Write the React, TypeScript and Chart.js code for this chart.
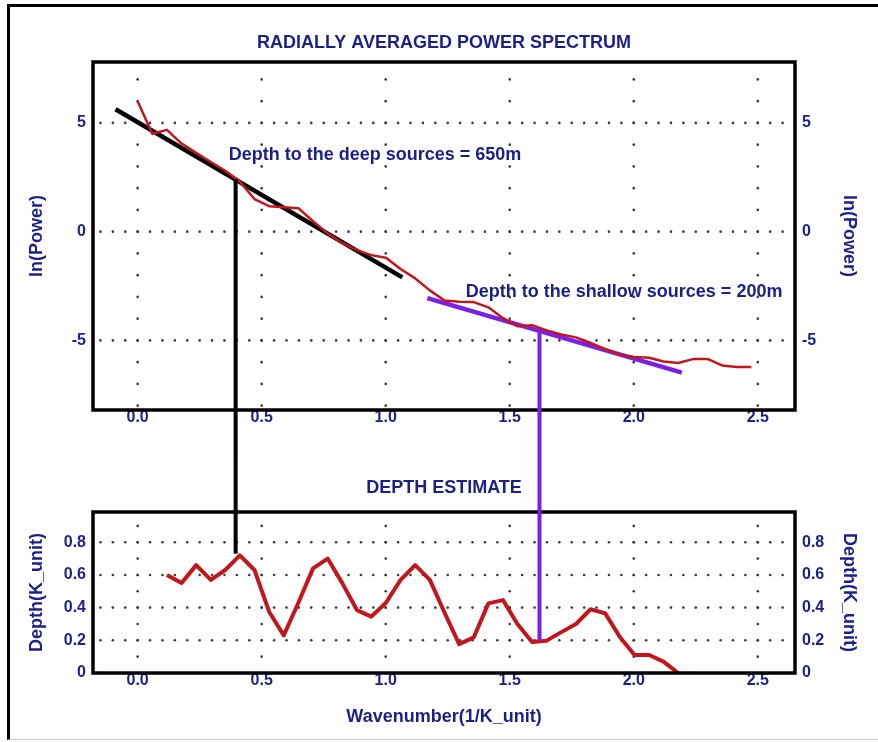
import React, { useEffect, useRef } from "react";
import { Chart, registerables } from "chart.js";

Chart.register(...registerables);

const FONT = "'Liberation Sans', Arial, Helvetica, sans-serif";
const NAVY = "#1b1f8a";
const RED = "#c3161c";
const PURPLE = "#7c20e4";

// ---- Radially averaged power spectrum ----
const wavenumber = [
  0.0, 0.059, 0.118, 0.177, 0.236, 0.295, 0.353, 0.412, 0.471, 0.53, 0.589,
  0.648, 0.707, 0.766, 0.825, 0.884, 0.942, 1.001, 1.06, 1.119, 1.178, 1.237,
  1.296, 1.355, 1.414, 1.473, 1.531, 1.59, 1.649, 1.708, 1.767, 1.826, 1.885,
  1.944, 2.003, 2.062, 2.12, 2.179, 2.238, 2.297, 2.356, 2.415, 2.474,
];
const lnPower = [
  6.0, 4.5, 4.68, 4.05, 3.62, 3.2, 2.8, 2.3, 1.5, 1.17, 1.12,
  1.08, 0.48, -0.08, -0.53, -0.85, -1.08, -1.2, -1.72, -2.15, -2.7, -3.17,
  -3.22, -3.24, -3.48, -3.98, -4.35, -4.3, -4.54, -4.73, -4.86, -5.12, -5.4,
  -5.66, -5.76, -5.8, -5.97, -6.04, -5.86, -5.85, -6.15, -6.22, -6.22,
];

// straight-line fits
const deepFitK = [-0.089, 1.067];
const deepFitPower = [5.63, -2.1];
const shallowFitK = [1.168, 2.194];
const shallowFitPower = [-3.06, -6.48];

// ---- Depth estimate ----
const depthK = [
  0.118, 0.177, 0.236, 0.295, 0.353, 0.412, 0.471, 0.53, 0.589, 0.648, 0.707,
  0.766, 0.825, 0.884, 0.942, 1.001, 1.06, 1.119, 1.178, 1.237, 1.296, 1.355,
  1.414, 1.473, 1.531, 1.59, 1.649, 1.708, 1.767, 1.826, 1.885, 1.944, 2.003,
  2.062, 2.12, 2.179,
];
const depthValues = [
  0.6, 0.55, 0.66, 0.57, 0.63, 0.72, 0.63, 0.375, 0.23, 0.43, 0.64,
  0.7, 0.55, 0.385, 0.345, 0.43, 0.57, 0.66, 0.57, 0.37, 0.177, 0.218,
  0.426, 0.446, 0.3, 0.19, 0.198, 0.25, 0.3, 0.39, 0.365, 0.22, 0.11,
  0.11, 0.07, 0.0,
];

// cursors linking the two panels
const cursorK = [0.395, 1.62];
const cursorPower = [2.42, -4.55];
const cursorDepth = [0.73, 0.2];
const cursorColors = ["#000000", PURPLE];

// annotations
const noteTexts = ["Depth to the deep sources = 650m", "Depth to the shallow sources = 200m"];
const noteK = [0.367, 1.323];
const notePower = [3.54, -2.78];

// ticks
const xTicks = [0, 0.5, 1, 1.5, 2, 2.5];
const powerTicks = [-5, 0, 5];
const depthTicks = [0, 0.2, 0.4, 0.6, 0.8];
const powerDotColumn = [-8, -7, -6, -5, -4, -3, -2, -1, 0, 1, 2, 3, 4, 5, 6, 7];
const depthDotColumn = [0.1, 0.2, 0.3, 0.4, 0.5, 0.6, 0.7, 0.8, 0.9];
const powerDotRows = [5, 0, -5];
const depthDotRows = [0.8, 0.6, 0.4, 0.2];

const X_MIN = -0.18;
const X_MAX = 2.65;

const tickFont = { family: FONT, size: 16, weight: "bold" as const, lineHeight: 1 };
const titleFont = { family: FONT, size: 18, weight: "bold" as const, lineHeight: 1.2 };

function makeDotGrid(rows: number[], column: number[]) {
  return {
    id: "dotGrid",
    beforeDatasetsDraw(chart: any) {
      const { ctx, scales } = chart;
      const xs = scales.x;
      const ys = scales.y;
      ctx.save();
      ctx.fillStyle = "#3a3a3a";
      const dot = (px: number, py: number) => {
        ctx.beginPath();
        ctx.arc(px, py, 1.3, 0, Math.PI * 2);
        ctx.fill();
      };
      for (const r of rows) {
        const py = ys.getPixelForValue(r);
        for (let i = -3; i <= 53; i++) dot(xs.getPixelForValue(i * 0.05), py);
      }
      for (const c of xTicks) {
        const px = xs.getPixelForValue(c);
        for (const r of column) dot(px, ys.getPixelForValue(r));
      }
      ctx.restore();
    },
  };
}

const framePlugin = {
  id: "frame",
  afterDatasetsDraw(chart: any) {
    const { ctx, chartArea } = chart;
    ctx.save();
    ctx.strokeStyle = "#000";
    ctx.lineWidth = 3.5;
    ctx.strokeRect(chartArea.left, chartArea.top, chartArea.right - chartArea.left, chartArea.bottom - chartArea.top);
    ctx.restore();
  },
};

function makeConnectors(values: number[], down: boolean) {
  return {
    id: "connectors",
    afterDraw(chart: any) {
      const { ctx, scales } = chart;
      ctx.save();
      ctx.lineWidth = 4;
      cursorK.forEach((k, i) => {
        const px = scales.x.getPixelForValue(k);
        const py = scales.y.getPixelForValue(values[i]);
        ctx.strokeStyle = cursorColors[i];
        ctx.beginPath();
        if (down) {
          ctx.moveTo(px, py);
          ctx.lineTo(px, chart.height);
        } else {
          ctx.moveTo(px, 0);
          ctx.lineTo(px, py);
        }
        ctx.stroke();
      });
      ctx.restore();
    },
  };
}

const notesPlugin = {
  id: "notes",
  afterDatasetsDraw(chart: any) {
    const { ctx, scales } = chart;
    ctx.save();
    ctx.font = `bold 18px ${FONT}`;
    ctx.fillStyle = NAVY;
    ctx.textAlign = "left";
    ctx.textBaseline = "middle";
    noteTexts.forEach((t, i) => {
      ctx.fillText(t, scales.x.getPixelForValue(noteK[i]), scales.y.getPixelForValue(notePower[i]));
    });
    ctx.restore();
  },
};

function xAxis(height: number, title?: string) {
  return {
    type: "linear",
    position: "bottom",
    min: X_MIN,
    max: X_MAX,
    afterBuildTicks: (s: any) => {
      s.ticks = xTicks.map((v) => ({ value: v }));
    },
    afterFit: (s: any) => {
      s.height = height;
    },
    grid: { display: false, drawTicks: false },
    border: { display: false },
    ticks: {
      color: NAVY,
      font: tickFont,
      padding: 0,
      autoSkip: false,
      maxRotation: 0,
      callback: (v: any) => Number(v).toFixed(1),
    },
    title: title
      ? { display: true, text: title, color: NAVY, font: titleFont, padding: { top: 0, bottom: 14 } }
      : { display: false },
  };
}

function yAxis(
  pos: "left" | "right",
  min: number,
  max: number,
  ticks: number[],
  label: string,
  fmt: (v: number) => string,
  width: number,
  titlePad: number
) {
  return {
    type: "linear",
    position: pos,
    min,
    max,
    afterBuildTicks: (s: any) => {
      s.ticks = ticks.map((v) => ({ value: v }));
    },
    afterFit: (s: any) => {
      s.width = width;
    },
    grid: { display: false, drawTicks: false },
    border: { display: false },
    ticks: { color: NAVY, font: tickFont, padding: 7, autoSkip: false, callback: (v: any) => fmt(Number(v)) },
    title: { display: true, text: label, color: NAVY, font: titleFont, padding: { top: titlePad, bottom: 0 } },
  };
}

const fmtPower = (v: number) => String(v);
const fmtDepth = (v: number) => (v === 0 ? "0" : v.toFixed(1));

export default function App() {
  const topRef = useRef<HTMLCanvasElement>(null);
  const botRef = useRef<HTMLCanvasElement>(null);

  useEffect(() => {
    const top = new Chart(topRef.current as HTMLCanvasElement, {
      type: "line",
      data: {
        datasets: [
          {
            data: wavenumber.map((k, i) => ({ x: k, y: lnPower[i] })),
            borderColor: RED,
            borderWidth: 2.5,
            pointRadius: 0,
            borderJoinStyle: "round",
            order: 0,
          },
          {
            data: deepFitK.map((k, i) => ({ x: k, y: deepFitPower[i] })),
            borderColor: "#000",
            borderWidth: 4.5,
            pointRadius: 0,
            order: 1,
          },
          {
            data: shallowFitK.map((k, i) => ({ x: k, y: shallowFitPower[i] })),
            borderColor: PURPLE,
            borderWidth: 4.5,
            pointRadius: 0,
            order: 1,
          },
        ],
      } as any,
      options: {
        responsive: false,
        animation: false,
        events: [],
        layout: { padding: { left: 10, right: 10, top: 0, bottom: 0 } },
        plugins: {
          legend: { display: false },
          tooltip: { enabled: false },
          title: {
            display: true,
            text: "RADIALLY AVERAGED POWER SPECTRUM",
            color: NAVY,
            font: titleFont,
            fullSize: false,
            padding: { top: 32.2, bottom: 8.2 },
          },
        },
        scales: {
          x: xAxis(52),
          y: yAxis("left", -8.2, 7.8, powerTicks, "ln(Power)", fmtPower, 83, 16),
          y2: yAxis("right", -8.2, 7.8, powerTicks, "ln(Power)", fmtPower, 73, 8),
        },
      } as any,
      plugins: [makeDotGrid(powerDotRows, powerDotColumn), framePlugin, notesPlugin, makeConnectors(cursorPower, true)],
    });

    const bot = new Chart(botRef.current as HTMLCanvasElement, {
      type: "line",
      data: {
        datasets: [
          {
            data: depthK.map((k, i) => ({ x: k, y: depthValues[i] })),
            borderColor: RED,
            borderWidth: 4,
            pointRadius: 0,
            borderJoinStyle: "round",
          },
        ],
      } as any,
      options: {
        responsive: false,
        animation: false,
        events: [],
        layout: { padding: { left: 10, right: 10, top: 0, bottom: 0 } },
        plugins: {
          legend: { display: false },
          tooltip: { enabled: false },
          title: {
            display: true,
            text: "DEPTH ESTIMATE",
            color: NAVY,
            font: titleFont,
            fullSize: false,
            padding: { top: 15.2, bottom: 13.2 },
          },
        },
        scales: {
          x: xAxis(69, "Wavenumber(1/K_unit)"),
          y: yAxis("left", 0, 0.985, depthTicks, "Depth(K_unit)", fmtDepth, 83, 16),
          y2: yAxis("right", 0, 0.985, depthTicks, "Depth(K_unit)", fmtDepth, 73, 8),
        },
      } as any,
      plugins: [makeDotGrid(depthDotRows, depthDotColumn), framePlugin, makeConnectors(cursorDepth, false)],
    });

    return () => {
      top.destroy();
      bot.destroy();
    };
  }, []);

  return (
    <div
      style={{
        position: "absolute",
        left: 0,
        top: 0,
        width: 878,
        height: 742,
        background: "#fff",
        overflow: "hidden",
      }}
    >
      <div
        style={{
          position: "absolute",
          left: 7,
          top: 4,
          right: 0,
          bottom: 2,
          borderLeft: "3.5px solid #000",
          borderTop: "3px solid #000",
          borderBottom: "1px solid #c8c8c8",
        }}
      />
      <canvas
        ref={topRef}
        width={878}
        height={462}
        style={{ position: "absolute", left: 0, top: 0, width: 878, height: 462 }}
      />
      <canvas
        ref={botRef}
        width={878}
        height={280}
        style={{ position: "absolute", left: 0, top: 462, width: 878, height: 280 }}
      />
    </div>
  );
}
